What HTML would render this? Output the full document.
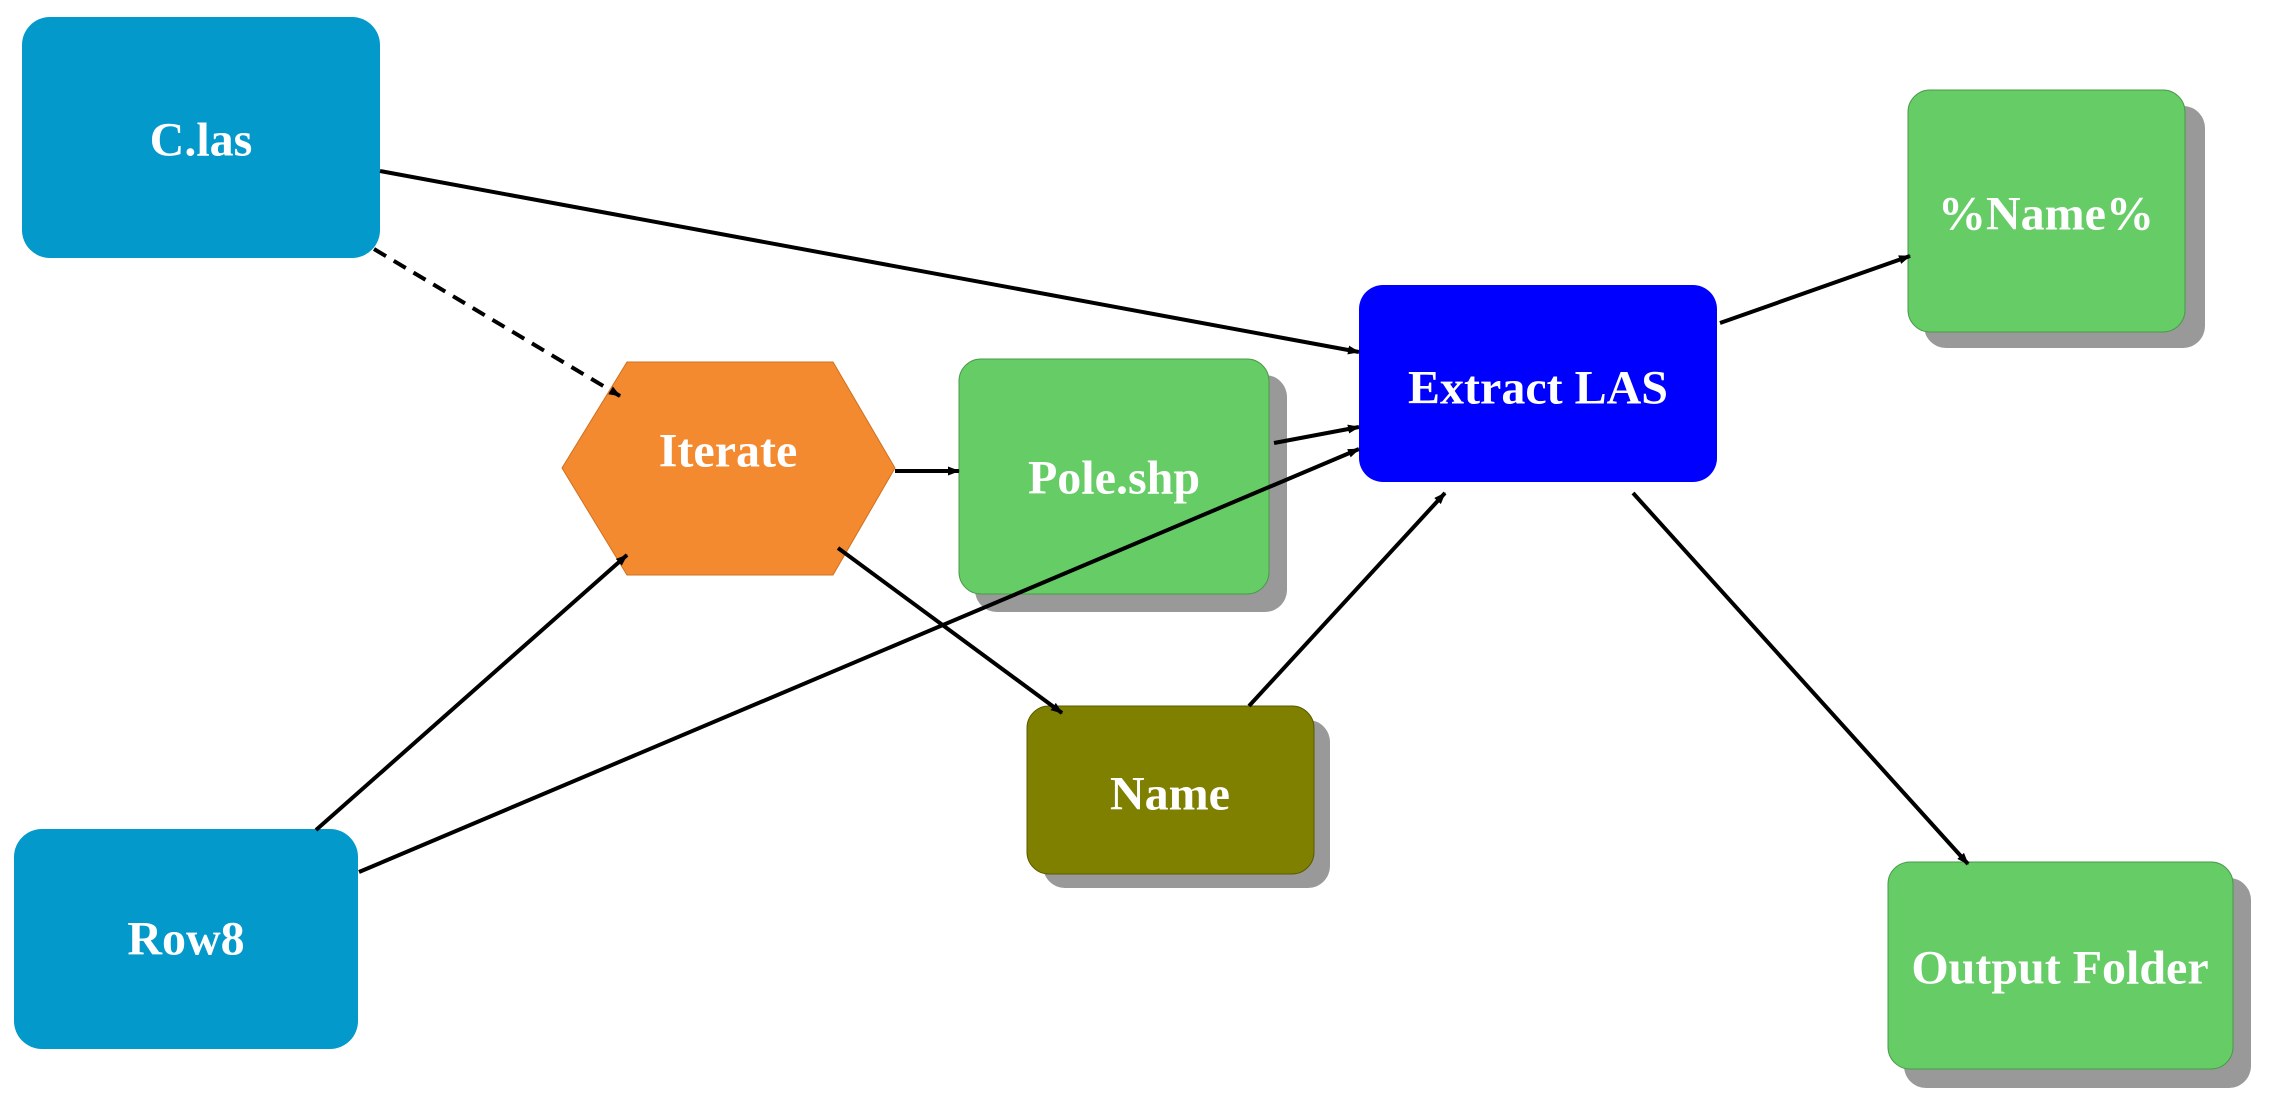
<!DOCTYPE html>
<html><head><style>
html,body{margin:0;padding:0;background:#fff;}
svg{display:block;}
text{font-family:"Liberation Serif",serif;font-weight:bold;fill:#fff;font-size:48px;text-anchor:middle;dominant-baseline:central;}
</style></head><body>
<svg width="2271" height="1104" viewBox="0 0 2271 1104" xmlns="http://www.w3.org/2000/svg">
<defs>
<marker id="a" markerWidth="12" markerHeight="9" refX="11" refY="4.5" orient="auto" markerUnits="userSpaceOnUse">
<path d="M0,0 L12,4.5 L0,9 z" fill="#000"/></marker>
</defs>
<!-- shadows -->
<rect x="975" y="375" width="312" height="237" rx="22" fill="#999"/>
<rect x="1043" y="720" width="287" height="168" rx="22" fill="#999"/>
<rect x="1924" y="106" width="281" height="242" rx="22" fill="#999"/>
<rect x="1904" y="878" width="347" height="210" rx="22" fill="#999"/>
<!-- nodes -->
<rect x="22" y="17" width="358" height="241" rx="28" fill="#0399CB"/>
<rect x="14" y="829" width="344" height="220" rx="28" fill="#0399CB"/>
<polygon points="627,362 833,362 895,468 833,575 627,575 562,468" fill="#F38A30" stroke="#d07020" stroke-width="1"/>
<rect x="959" y="359" width="310" height="235" rx="22" fill="#66CC66" stroke="#4a9a4a" stroke-width="1"/>
<rect x="1027" y="706" width="287" height="168" rx="22" fill="#808000" stroke="#5a5a00" stroke-width="1"/>
<rect x="1359" y="285" width="358" height="197" rx="24" fill="#0000FF"/>
<rect x="1908" y="90" width="277" height="242" rx="22" fill="#66CC66" stroke="#4a9a4a" stroke-width="1"/>
<rect x="1888" y="862" width="345" height="207" rx="22" fill="#66CC66" stroke="#4a9a4a" stroke-width="1"/>
<!-- edges -->
<g stroke="#000" stroke-width="4" fill="none" marker-end="url(#a)">
<line x1="380" y1="171" x2="1359" y2="352"/>
<line x1="374" y1="249" x2="620" y2="396" stroke-dasharray="14,9"/>
<line x1="895" y1="471" x2="959" y2="471"/>
<line x1="838" y1="548" x2="1062" y2="713"/>
<line x1="316" y1="830" x2="627" y2="555"/>
<line x1="359" y1="872" x2="1359" y2="449"/>
<line x1="1274" y1="443" x2="1359" y2="427"/>
<line x1="1249" y1="706" x2="1445" y2="493"/>
<line x1="1720" y1="323" x2="1910" y2="256"/>
<line x1="1633" y1="493" x2="1968" y2="864"/>
</g>
<!-- labels -->
<text x="201" y="140">C.las</text>
<text x="186" y="939">Row8</text>
<text x="728" y="451">Iterate</text>
<text x="1114" y="478">Pole.shp</text>
<text x="1170" y="794">Name</text>
<text x="1538" y="388">Extract LAS</text>
<text x="2046" y="214">%Name%</text>
<text x="2060" y="968">Output Folder</text>
</svg>
</body></html>
